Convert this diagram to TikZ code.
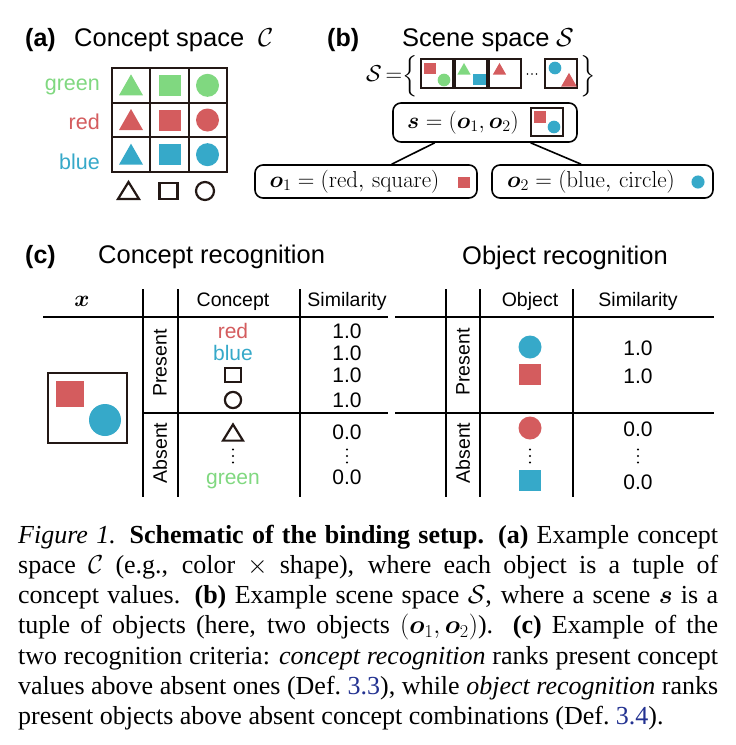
\RequirePackage{fix-cm}
\documentclass[tikz,border=0pt]{standalone}
\usepackage{amsmath,amssymb}
\usepackage[no-math]{fontspec}
\setmainfont{Liberation Serif}
\setsansfont{Liberation Sans}
\usetikzlibrary{positioning}

\definecolor{cgreen}{RGB}{128,216,128}
\definecolor{cred}{RGB}{212,92,94}
\definecolor{cblue}{RGB}{54,169,201}
\definecolor{cline}{RGB}{35,24,21}
\definecolor{capblue}{RGB}{35,50,145}

% small shape glyphs
\tikzset{
  pics/ftri/.style={code={\fill[fill=#1] (-12,10) -- (12,10) -- (0,-11) -- cycle;}},
  pics/fsq/.style={code={\fill[fill=#1] (-11,-10.5) rectangle (11,10.5);}},
  pics/fcirc/.style={code={\fill[fill=#1] (0,0) circle (11.5);}},
  pics/otri/.style={code={\draw[line width=2.2pt,cline] (-10.5,8) -- (10.5,8) -- (0,-9) -- cycle;}},
  pics/osq/.style={code={\draw[line width=2.2pt,cline] (-9,-8) rectangle (9,8);}},
  pics/ocirc/.style={code={\draw[line width=2.2pt,cline] (0,0) circle (9);}},
  pics/vdts/.style={code={\foreach \d in {-6.5,0,6.5} \fill (0,\d) circle (1.1);}},
  pics/hdts/.style={code={\foreach \d in {-4.5,0,4.5} \fill (\d,0) circle (0.9);}},
}

\begin{document}
\begin{tikzpicture}[x=1pt,y=-1pt,
    tag/.style={font=\sffamily\bfseries\fontsize{25}{30}\selectfont,inner sep=0,anchor=base west},
    ttl/.style={font=\sffamily\fontsize{25.5}{30}\selectfont,inner sep=0,anchor=base west},
    rowlbl/.style={font=\sffamily\fontsize{21.5}{26}\selectfont,inner sep=0,anchor=base east},
    mth/.style={font=\fontsize{23}{27}\selectfont,inner sep=0},
    gridln/.style={line width=2pt,cline},
    scn/.style={line width=1.3pt,cline},
    objbox/.style={draw,line width=1.6pt,rounded corners=8pt,minimum height=33pt,inner sep=0,font=\fontsize{23}{27}\selectfont},
    conn/.style={line width=1.6pt},
    hdr/.style={font=\sffamily\fontsize{19.5}{24}\selectfont,inner sep=0,anchor=base},
    val/.style={font=\sffamily\fontsize{21}{25}\selectfont,inner sep=0},
    side/.style={font=\sffamily\fontsize{19.5}{24}\selectfont,inner sep=0,rotate=90},
    hrule/.style={line width=2.7pt},
    mrule/.style={line width=1.5pt},
    imgbox/.style={line width=2.2pt,cline},
  ]
    \useasboundingbox (0,0) rectangle (736,745);
    \fill[white] (0,0) rectangle (736,745);

    % (a) concept space
    \node[tag] (tagA) at (25,46) {(a)};
    \node[ttl] (ttlA) at (74,46) {Concept space};
    \node[ttl,font=\fontsize{26}{30}\selectfont] (calC) at (258,46) {$\mathcal{C}$};
    \node[rowlbl,cgreen] (lblGreen) at (100,90) {green};
    \node[rowlbl,cred] (lblRed) at (100,129) {red};
    \node[rowlbl,cblue] (lblBlue) at (100,169) {blue};
    \draw[gridln] (112,68) rectangle (227,172);
    \foreach \i in {1,2} {
        \draw[gridln] ({112+38.33*\i},68) -- ({112+38.33*\i},172);
        \draw[gridln] (112,{68+34.67*\i}) -- (227,{68+34.67*\i});
    }
    \foreach \c [count=\r] in {cgreen,cred,cblue} {
        \pic at (131,{68+34.67*(\r-0.5)}) {ftri=\c};
        \pic at (169.5,{68+34.67*(\r-0.5)}) {fsq=\c};
        \pic at (207.5,{68+34.67*(\r-0.5)}) {fcirc=\c};
    }
    \pic at (128.5,191) {otri};
    \pic at (168.5,191) {osq};
    \pic at (205,191) {ocirc};

    % (b) scene space
    \node[tag] (tagB) at (327,46) {(b)};
    \node[ttl] (ttlB) at (402,46) {Scene space};
    \node[ttl,font=\fontsize{26}{30}\selectfont] (calS) at (556,46) {$\mathcal{S}$};
    \node[mth,anchor=west] (sOpen) at (366,76) {$\mathcal{S}\,{=}\Big\{$};
    \foreach \x in {421,455,489,545} \draw[scn] (\x,59) rectangle ++(32,29);
    \pic[scale=.55] at (430,68.5) {fsq=cred};
    \pic[scale=.55] at (444,80) {fcirc=cgreen};
    \pic[scale=.55] at (464,69) {ftri=cgreen};
    \pic[scale=.55] at (479.5,79.5) {fsq=cblue};
    \pic[scale=.55] at (499.5,69) {ftri=cred};
    \pic[scale=.55] at (555,68) {fcirc=cblue};
    \pic[scale=.65] at (569,80) {ftri=cred};
    \pic at (532,74) {hdts};
    \node[mth,anchor=west] (sClose) at (580,76) {$\Big\}$};

    \node[objbox,minimum width=184pt,minimum height=39pt] (s) at (485,122.5)
        {$\boldsymbol{s}=(\boldsymbol{o}_1,\boldsymbol{o}_2)$\kern44pt};
    \draw[scn] (531,108) rectangle (563,136);
    \pic[scale=.55] at (540,117) {fsq=cred};
    \pic[scale=.55] at (554,127) {fcirc=cblue};

    \node[objbox,minimum width=222pt] (o1) at (366,181.5)
        {$\boldsymbol{o}_1=(\mathrm{red},\,\mathrm{square})$\kern23pt};
    \pic[scale=.55] at (464,182.5) {fsq=cred};
    \node[objbox,minimum width=221pt] (o2) at (602.5,181.5)
        {$\boldsymbol{o}_2=(\mathrm{blue},\,\mathrm{circle})$\kern23pt};
    \pic[scale=.57] at (698,182) {fcirc=cblue};

    \draw[conn] (s.202) -- (o1.34);
    \draw[conn] (s.336) -- (o2.141);

    % (c) recognition tables
    \node[tag] (tagC) at (25,263) {(c)};
    \node[ttl] (ttlCR) at (98,263) {Concept recognition};
    \node[ttl] (ttlOR) at (462,264) {Object recognition};

    \node[hdr,font=\fontsize{23}{27}\selectfont] (hX) at (82,306) {$\boldsymbol{x}$};
    \node[hdr] (hCon) at (233,306) {Concept};
    \node[hdr] (hSimL) at (347,306) {Similarity};
    \node[hdr] (hObj) at (530,306) {Object};
    \node[hdr] (hSimR) at (638,306) {Similarity};

    \draw[hrule] (43,317) -- (388,317);
    \draw[hrule] (395,317) -- (714,317);
    \draw[mrule] (143,413) -- (388,413);
    \draw[mrule] (395,413) -- (714,413);
    \foreach \x in {143,178,300,446,480,573} \draw[mrule] (\x,289) -- (\x,497);

    \draw[imgbox] (48,373) rectangle (127,443);
    \fill[cred] (56,381) rectangle (84,407);
    \fill[cblue] (105,420) circle (16);

    \node[side] (presL) at (160,363) {Present};
    \node[side] (absL) at (160,453) {Absent};
    \node[side] (presR) at (463,362) {Present};
    \node[side] (absR) at (463,453) {Absent};

    % concept column
    \node[val,cred] (cRed) at (233,331) {red};
    \node[val,cblue] (cBlue) at (233,353) {blue};
    \pic[scale=.85] at (233,375) {osq};
    \pic[scale=.9] at (233,400) {ocirc};
    \pic[scale=.95] at (233,433) {otri};
    \pic at (233,456) {vdts};
    \node[val,cgreen,anchor=base] (cGreen) at (233,484) {green};

    \node[val] (sim1) at (347,331) {1.0};
    \node[val] (sim2) at (347,353) {1.0};
    \node[val] (sim3) at (347,375) {1.0};
    \node[val] (sim4) at (347,400) {1.0};
    \node[val] (sim5) at (347,432) {0.0};
    \pic at (347,456) {vdts};
    \node[val] (sim6) at (347,477) {0.0};

    % object column
    \pic at (530,347) {fcirc=cblue};
    \pic at (530,374) {fsq=cred};
    \pic at (530,428) {fcirc=cred};
    \pic at (530,456) {vdts};
    \pic at (530,480) {fsq=cblue};

    \node[val] (osim1) at (638,348) {1.0};
    \node[val] (osim2) at (638,376) {1.0};
    \node[val] (osim3) at (638,429) {0.0};
    \pic at (638,456) {vdts};
    \node[val] (osim4) at (638,482) {0.0};

    % caption
    \node[anchor=base west,inner sep=0,text width=700pt,align=justify,
          font=\rmfamily\fontsize{26}{30.3}\selectfont] (cap) at (18,543)
        {\textit{Figure 1.} \textbf{Schematic of the binding setup. (a)} Example concept\linebreak
         space $\mathcal{C}$ (e.g., color $\times$ shape), where each object is a tuple of\linebreak
         concept values. \textbf{(b)} Example scene space $\mathcal{S}$, where a scene $\boldsymbol{s}$ is a\linebreak
         tuple of objects (here, two objects $(\boldsymbol{o}_1,\boldsymbol{o}_2)$). \textbf{(c)} Example of the\linebreak
         two recognition criteria: \textit{concept recognition} ranks present concept\linebreak
         values above absent ones (Def.~\textcolor{capblue}{3.3}), while \textit{object recognition} ranks\linebreak
         present objects above absent concept combinations (Def.~\textcolor{capblue}{3.4}).};
\end{tikzpicture}
\end{document}
